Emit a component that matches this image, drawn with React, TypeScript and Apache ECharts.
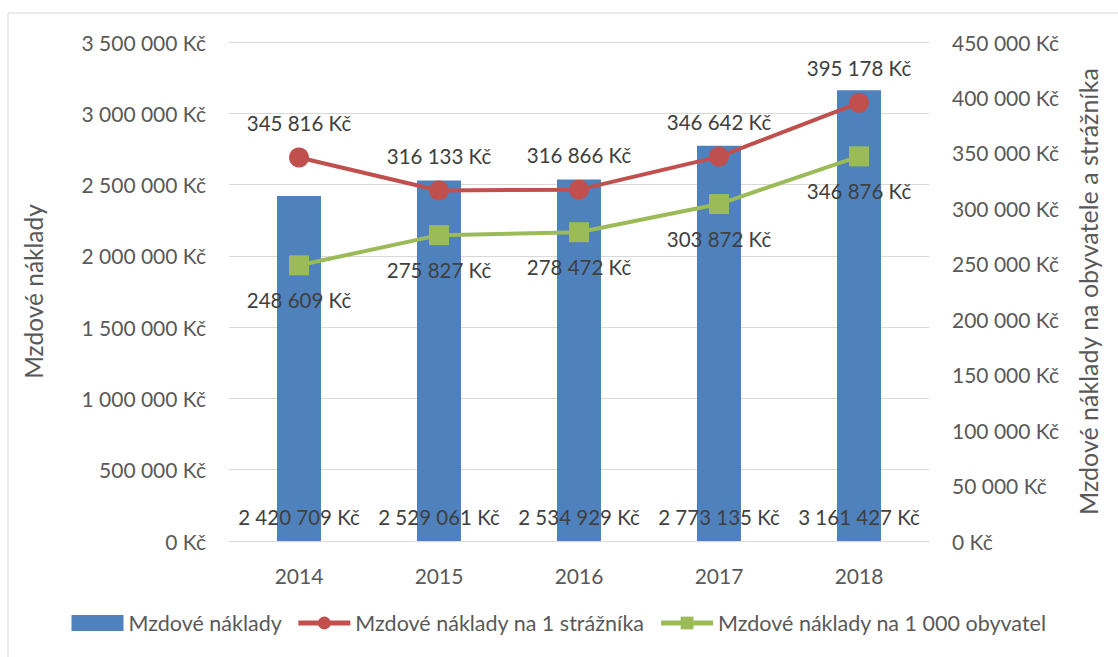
import React, { useEffect, useRef } from "react";
import * as echarts from "echarts";

const years = ["2014", "2015", "2016", "2017", "2018"];
const mzdoveNaklady = [2420709, 2529061, 2534929, 2773135, 3161427];
const naStraznika = [345816, 316133, 316866, 346642, 395178];
const naObyvatel = [248609, 275827, 278472, 303872, 346876];

const fmt = (v: number) =>
  String(Math.round(v)).replace(/\B(?=(\d{3})+(?!\d))/g, " ") + " Kč";

const FONT = "Lato, 'Open Sans', sans-serif";

export default function App() {
  const ref = useRef<HTMLDivElement>(null);
  useEffect(() => {
    document.body.style.margin = "0";
    const chart = echarts.init(ref.current!, null, { renderer: "svg" });
    chart.setOption({
      animation: false,
      backgroundColor: "#ffffff",
      textStyle: { fontFamily: FONT },
      graphic: [
        {
          type: "rect",
          shape: { x: 8, y: 13, width: 1130, height: 660 },
          style: { fill: "none", stroke: "#d9d9d9", lineWidth: 1 },
          silent: true,
        },
      ],
      grid: { left: 229, right: 189, top: 42, bottom: 116 },
      legend: {
        bottom: 18,
        left: "center",
        itemWidth: 52,
        itemHeight: 16,
        itemGap: 14,
        textStyle: { fontFamily: FONT, fontSize: 21.5, color: "#595959" },
        data: [
          { name: "Mzdové náklady", icon: "rect", itemStyle: { color: "#4f81bd" } },
          { name: "Mzdové náklady na 1 strážníka", lineStyle: { width: 5 } },
          { name: "Mzdové náklady na 1 000 obyvatel", lineStyle: { width: 5 } },
        ],
      },
      xAxis: {
        type: "category",
        data: years,
        axisLine: { show: true, lineStyle: { color: "#d9d9d9", width: 1 } },
        axisTick: { show: false },
        axisLabel: { color: "#595959", fontSize: 21, fontFamily: FONT, margin: 24 },
      },
      yAxis: [
        {
          type: "value",
          min: 0,
          max: 3500000,
          interval: 500000,
          name: "Mzdové náklady",
          nameLocation: "middle",
          nameGap: 183,
          nameTextStyle: { color: "#595959", fontSize: 24.5, fontFamily: FONT },
          axisLabel: {
            color: "#595959",
            fontSize: 21,
            fontFamily: FONT,
            margin: 23,
            formatter: (v: number) => fmt(v),
          },
          splitLine: { lineStyle: { color: "#d9d9d9", width: 1 } },
          axisLine: { show: false },
          axisTick: { show: false },
        },
        {
          type: "value",
          min: 0,
          max: 450000,
          interval: 50000,
          name: "Mzdové náklady na obyvatele a strážníka",
          nameLocation: "middle",
          nameGap: 146,
          nameRotate: 90,
          nameTextStyle: { color: "#595959", fontSize: 25, fontFamily: FONT },
          axisLabel: {
            color: "#595959",
            fontSize: 21,
            fontFamily: FONT,
            margin: 23,
            formatter: (v: number) => fmt(v),
          },
          splitLine: { show: false },
          axisLine: { show: false },
          axisTick: { show: false },
        },
      ],
      series: [
        {
          name: "Mzdové náklady",
          type: "bar",
          yAxisIndex: 0,
          data: mzdoveNaklady,
          barWidth: 44,
          itemStyle: { color: "#4f81bd" },
          label: {
            show: true,
            position: "insideBottom",
            distance: 14,
            color: "#404040",
            fontSize: 20.5,
            fontFamily: FONT,
            formatter: (p: any) => fmt(p.value),
          },
          z: 1,
        },
        {
          name: "Mzdové náklady na 1 strážníka",
          type: "line",
          yAxisIndex: 1,
          data: naStraznika,
          symbol: "circle",
          symbolSize: 20,
          lineStyle: { color: "#c0504d", width: 4 },
          itemStyle: { color: "#c0504d" },
          label: {
            show: true,
            position: "top",
            distance: 14,
            color: "#404040",
            fontSize: 20.5,
            fontFamily: FONT,
            formatter: (p: any) => fmt(p.value),
          },
          z: 3,
        },
        {
          name: "Mzdové náklady na 1 000 obyvatel",
          type: "line",
          yAxisIndex: 1,
          data: naObyvatel,
          symbol: "rect",
          symbolSize: 20,
          lineStyle: { color: "#9bbb59", width: 4 },
          itemStyle: { color: "#9bbb59" },
          label: {
            show: true,
            position: "bottom",
            distance: 14,
            color: "#404040",
            fontSize: 20.5,
            fontFamily: FONT,
            formatter: (p: any) => fmt(p.value),
          },
          z: 3,
        },
      ],
    });
    return () => chart.dispose();
  }, []);
  return <div ref={ref} style={{ width: 1118, height: 657 }} />;
}
